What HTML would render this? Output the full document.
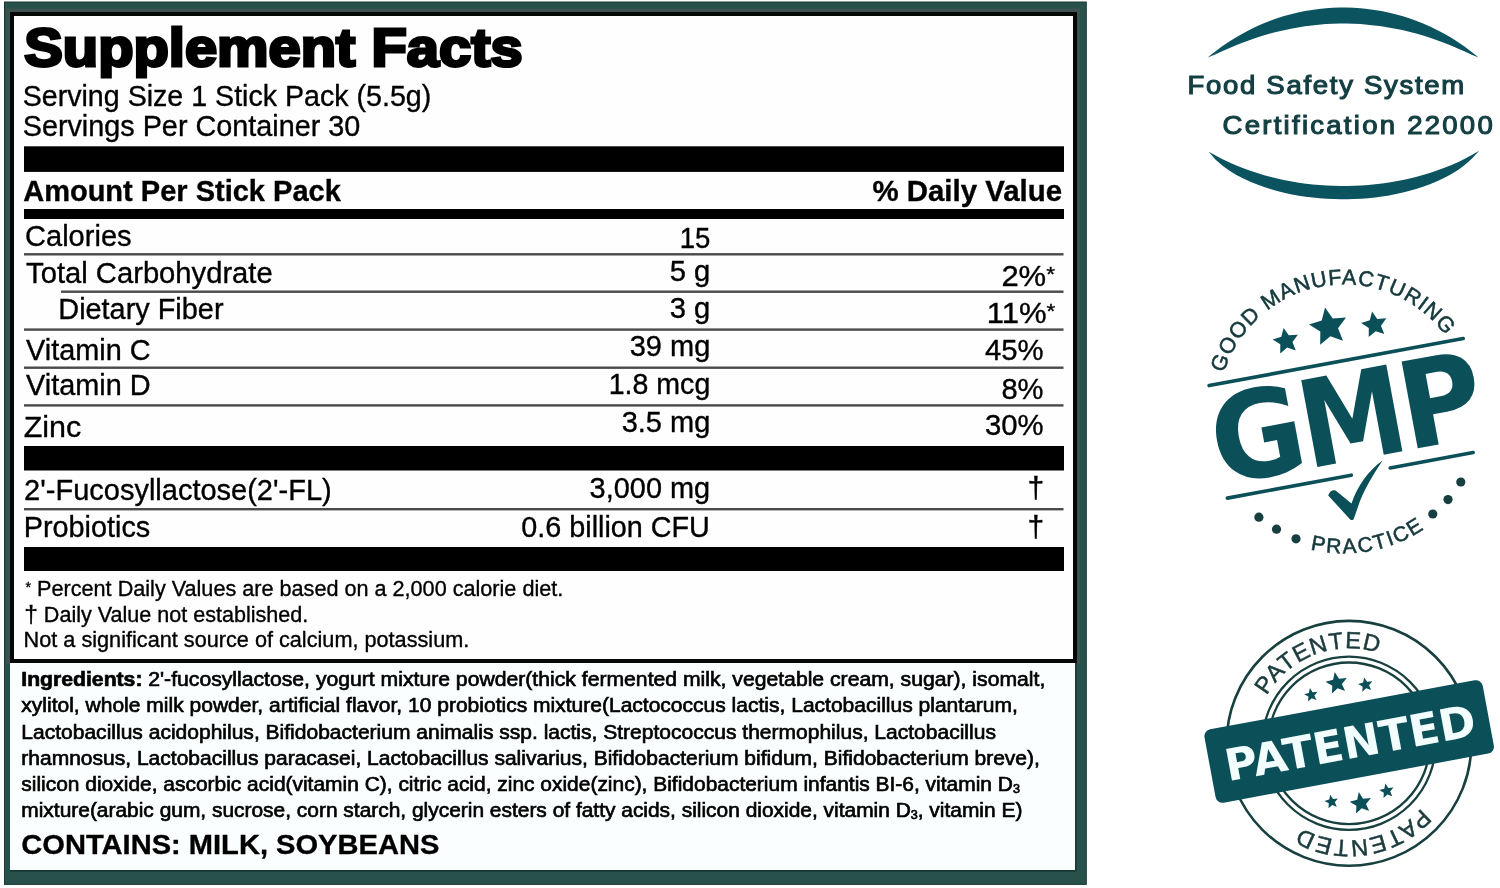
<!DOCTYPE html>
<html lang="en">
<head>
<meta charset="utf-8">
<title>Supplement Facts</title>
<style>
html,body{margin:0;padding:0;width:1500px;height:888px;overflow:hidden;background:#ffffff;}
svg{display:block;filter:blur(0.45px);}
.lb{font-family:"Liberation Sans",Arial,Helvetica,sans-serif;fill:#000;stroke:#000;stroke-width:0.35px;}
.b{font-weight:bold;}
.lg{font-family:"Liberation Sans",Arial,Helvetica,sans-serif;}
.dj{font-family:"DejaVu Sans",sans-serif;}
</style>
</head>
<body>
<svg width="1500" height="888" viewBox="0 0 1500 888">
<!-- ===== LABEL FRAME ===== -->
<rect x="4.5" y="2" width="1081.8" height="882.4" fill="#28514c" stroke="#1a3833" stroke-width="1"/>
<g fill="#3c5250"><rect x="6" y="8.5" width="4" height="655"/><rect x="6" y="8.5" width="1074" height="3.5"/><rect x="1077" y="8.5" width="3" height="655"/></g>
<rect x="10" y="660" width="1065" height="210" fill="#fbfefe"/>
<rect x="10" y="870" width="1066.5" height="1.6" fill="#173631"/>
<rect x="1075" y="663" width="1.5" height="208" fill="#173631"/>
<rect x="12" y="14" width="1063" height="647" fill="#fefefe" stroke="#050807" stroke-width="4"/>

<!-- bars -->
<g fill="#000">
<rect x="24" y="146.3" width="1040" height="25.6"/>
<rect x="24" y="209" width="1040" height="10"/>
<rect x="24" y="446" width="1040" height="24.5"/>
<rect x="24" y="547" width="1040" height="24"/>
</g>
<!-- thin rules -->
<g fill="#4a4a4a">
<rect x="24" y="253.1" width="1039.5" height="2.4"/>
<rect x="61" y="290.5" width="1002.5" height="2.4"/>
<rect x="24" y="328.4" width="1039.5" height="2.4"/>
<rect x="24" y="366.5" width="1039.5" height="2.4"/>
<rect x="24" y="404.2" width="1039.5" height="2.4"/>
<rect x="24" y="508" width="1039.5" height="2.4"/>
</g>

<!-- LABEL TEXT -->
<g class="lb">
<text x="24.2" y="66.2" font-size="54" class="b" stroke="#000" stroke-width="3" textLength="498.4" lengthAdjust="spacingAndGlyphs">Supplement Facts</text>
<text x="22.7" y="106" font-size="29.5" textLength="408.6" lengthAdjust="spacingAndGlyphs">Serving Size 1 Stick Pack (5.5g)</text>
<text x="22.7" y="136.3" font-size="29.5" textLength="337.6" lengthAdjust="spacingAndGlyphs">Servings Per Container 30</text>
<text x="23.2" y="201" font-size="30" class="b" textLength="317.6" lengthAdjust="spacingAndGlyphs">Amount Per Stick Pack</text>
<text x="872.4" y="200.8" font-size="30" class="b" textLength="189.6" lengthAdjust="spacingAndGlyphs">% Daily Value</text>

<text x="25.0" y="245.5" font-size="28.8" textLength="106.6" lengthAdjust="spacingAndGlyphs">Calories</text>
<text x="679.7" y="248" font-size="28.8" textLength="30.6" lengthAdjust="spacingAndGlyphs">15</text>

<text x="26.1" y="283.3" font-size="28.8" textLength="246.6" lengthAdjust="spacingAndGlyphs">Total Carbohydrate</text>
<text x="669.7" y="280.8" font-size="28.8" textLength="40.6" lengthAdjust="spacingAndGlyphs">5 g</text>
<text x="1001.4" y="285.6" font-size="28.8" textLength="53.6" lengthAdjust="spacingAndGlyphs">2%<tspan font-size="21" dy="-5">*</tspan></text>

<text x="58.3" y="318.7" font-size="28.8" textLength="165.2" lengthAdjust="spacingAndGlyphs">Dietary Fiber</text>
<text x="669.7" y="318" font-size="28.8" textLength="40.6" lengthAdjust="spacingAndGlyphs">3 g</text>
<text x="986.7" y="323.2" font-size="28.8" textLength="68.6" lengthAdjust="spacingAndGlyphs">11%<tspan font-size="21" dy="-5">*</tspan></text>

<text x="26.1" y="360.4" font-size="28.8" textLength="124.6" lengthAdjust="spacingAndGlyphs">Vitamin C</text>
<text x="629.7" y="355.7" font-size="28.8" textLength="80.6" lengthAdjust="spacingAndGlyphs">39 mg</text>
<text x="984.9" y="360.4" font-size="28.8" textLength="58.6" lengthAdjust="spacingAndGlyphs">45%</text>

<text x="26.1" y="395.3" font-size="28.8" textLength="124.6" lengthAdjust="spacingAndGlyphs">Vitamin D</text>
<text x="608.7" y="393.5" font-size="28.8" textLength="101.6" lengthAdjust="spacingAndGlyphs">1.8 mcg</text>
<text x="1001.4" y="398.6" font-size="28.8" textLength="42.1" lengthAdjust="spacingAndGlyphs">8%</text>

<text x="23.7" y="437" font-size="28.8" textLength="57.6" lengthAdjust="spacingAndGlyphs">Zinc</text>
<text x="621.7" y="432" font-size="28.8" textLength="88.6" lengthAdjust="spacingAndGlyphs">3.5 mg</text>
<text x="984.9" y="434.7" font-size="28.8" textLength="58.6" lengthAdjust="spacingAndGlyphs">30%</text>

<text x="24.1" y="500" font-size="28.8" textLength="307.6" lengthAdjust="spacingAndGlyphs">2'-Fucosyllactose(2'-FL)</text>
<text x="589.6" y="497.5" font-size="28.8" textLength="120.6" lengthAdjust="spacingAndGlyphs">3,000 mg</text>
<text x="1035.8" y="498" font-size="30" text-anchor="middle">†</text>

<text x="23.7" y="537.1" font-size="28.8" textLength="126.6" lengthAdjust="spacingAndGlyphs">Probiotics</text>
<text x="521.3" y="537.1" font-size="28.8" textLength="188.6" lengthAdjust="spacingAndGlyphs">0.6 billion CFU</text>
<text x="1035.8" y="537.3" font-size="30" text-anchor="middle">†</text>

<text x="25.6" y="595.6" font-size="21.5" textLength="537.7" lengthAdjust="spacingAndGlyphs"><tspan font-size="14" dy="-4">*</tspan><tspan dy="4"> Percent</tspan> Daily Values are based on a 2,000 calorie diet.</text>
<text x="24.2" y="621.5" font-size="21.5" textLength="284.1" lengthAdjust="spacingAndGlyphs"><tspan font-size="24.5">†</tspan> Daily Value not established.</text>
<text x="23.6" y="647" font-size="21.5" textLength="445.7" lengthAdjust="spacingAndGlyphs">Not a significant source of calcium, potassium.</text>

<text style="stroke-width:0.65px" x="21.3" y="686" font-size="20" textLength="1024.0" lengthAdjust="spacingAndGlyphs"><tspan font-weight="bold">Ingredients:</tspan> 2'-fucosyllactose, yogurt mixture powder(thick fermented milk, vegetable cream, sugar), isomalt,</text>
<text style="stroke-width:0.65px" x="21.3" y="712" font-size="20" textLength="996.6" lengthAdjust="spacingAndGlyphs">xylitol, whole milk powder, artificial flavor, 10 probiotics mixture(Lactococcus lactis, Lactobacillus plantarum,</text>
<text style="stroke-width:0.65px" x="21.3" y="738.5" font-size="20" textLength="974.6" lengthAdjust="spacingAndGlyphs">Lactobacillus acidophilus, Bifidobacterium animalis ssp. lactis, Streptococcus thermophilus, Lactobacillus</text>
<text style="stroke-width:0.65px" x="21.3" y="765" font-size="20" textLength="1018.6" lengthAdjust="spacingAndGlyphs">rhamnosus, Lactobacillus paracasei, Lactobacillus salivarius, Bifidobacterium bifidum, Bifidobacterium breve),</text>
<text style="stroke-width:0.65px" x="21.3" y="791" font-size="20" textLength="998.6" lengthAdjust="spacingAndGlyphs">silicon dioxide, ascorbic acid(vitamin C), citric acid, zinc oxide(zinc), Bifidobacterium infantis BI-6, vitamin D<tspan font-size="12" dy="2">3</tspan></text>
<text style="stroke-width:0.65px" x="21.3" y="817" font-size="20" textLength="1001.1" lengthAdjust="spacingAndGlyphs">mixture(arabic gum, sucrose, corn starch, glycerin esters of fatty acids, silicon dioxide, vitamin D<tspan font-size="12" dy="2">3</tspan><tspan dy="-2">, vitamin E)</tspan></text>
<text x="21.3" y="853.8" font-size="28.5" class="b" textLength="418.0" lengthAdjust="spacingAndGlyphs">CONTAINS: MILK, SOYBEANS</text>
</g>

<!-- ===== FOOD SAFETY LOGO ===== -->
<g fill="#0c5360">
<path d="M1207.6,57.6 L1214.6,52.0 L1221.5,46.8 L1228.5,42.1 L1235.4,37.7 L1242.4,33.7 L1249.3,30.0 L1256.3,26.6 L1263.2,23.6 L1270.2,20.8 L1277.1,18.3 L1284.1,16.1 L1291.0,14.2 L1298.0,12.5 L1304.9,11.1 L1311.9,9.9 L1318.8,8.9 L1325.8,8.2 L1332.7,7.8 L1339.7,7.5 L1346.6,7.5 L1353.6,7.8 L1360.5,8.2 L1367.5,8.9 L1374.4,9.9 L1381.4,11.1 L1388.3,12.5 L1395.3,14.2 L1402.2,16.1 L1409.2,18.3 L1416.1,20.8 L1423.1,23.5 L1430.0,26.6 L1437.0,29.9 L1443.9,33.6 L1450.9,37.6 L1457.8,42.0 L1464.8,46.7 L1471.7,51.9 L1478.7,57.5 L1471.7,54.7 L1464.8,51.5 L1457.8,48.4 L1450.9,45.5 L1443.9,42.7 L1437.0,40.2 L1430.0,37.8 L1423.1,35.6 L1416.1,33.6 L1409.2,31.8 L1402.2,30.1 L1395.3,28.7 L1388.3,27.4 L1381.4,26.3 L1374.4,25.4 L1367.5,24.7 L1360.5,24.1 L1353.6,23.8 L1346.6,23.6 L1339.7,23.6 L1332.7,23.8 L1325.8,24.1 L1318.8,24.7 L1311.9,25.4 L1304.9,26.3 L1298.0,27.4 L1291.0,28.7 L1284.1,30.2 L1277.1,31.8 L1270.2,33.6 L1263.2,35.6 L1256.3,37.8 L1249.3,40.2 L1242.4,42.8 L1235.4,45.5 L1228.5,48.4 L1221.5,51.5 L1214.6,54.8 Z"/>
<path d="M1208.7,151.7 L1215.6,155.6 L1222.6,159.2 L1229.5,162.5 L1236.4,165.6 L1243.4,168.3 L1250.3,170.8 L1257.3,173.1 L1264.2,175.2 L1271.1,177.1 L1278.1,178.8 L1285.0,180.3 L1291.9,181.6 L1298.9,182.7 L1305.8,183.7 L1312.7,184.4 L1319.7,185.1 L1326.6,185.5 L1333.5,185.8 L1340.5,186.0 L1347.4,186.0 L1354.4,185.8 L1361.3,185.5 L1368.2,185.0 L1375.2,184.3 L1382.1,183.5 L1389.0,182.5 L1396.0,181.3 L1402.9,179.9 L1409.8,178.4 L1416.8,176.7 L1423.7,174.8 L1430.6,172.7 L1437.6,170.3 L1444.5,167.7 L1451.5,164.9 L1458.4,161.9 L1465.3,158.5 L1472.3,154.8 L1479.2,150.8 L1472.3,158.3 L1465.3,164.5 L1458.4,169.7 L1451.5,174.0 L1444.5,177.8 L1437.6,181.1 L1430.6,184.0 L1423.7,186.6 L1416.8,188.8 L1409.8,190.8 L1402.9,192.6 L1396.0,194.1 L1389.0,195.4 L1382.1,196.5 L1375.2,197.4 L1368.2,198.2 L1361.3,198.7 L1354.4,199.1 L1347.4,199.3 L1340.5,199.3 L1333.5,199.1 L1326.6,198.8 L1319.7,198.3 L1312.7,197.6 L1305.8,196.7 L1298.9,195.7 L1291.9,194.4 L1285.0,192.9 L1278.1,191.2 L1271.1,189.3 L1264.2,187.1 L1257.3,184.6 L1250.3,181.7 L1243.4,178.5 L1236.4,174.9 L1229.5,170.7 L1222.6,165.7 L1215.6,159.8 Z"/>
</g>
<g class="lg" fill="#143f42" stroke="#143f42" stroke-width="1.1">
<text x="1187.4" y="93.6" font-size="25" letter-spacing="1.56" textLength="278.6" lengthAdjust="spacingAndGlyphs">Food Safety System</text>
<text x="1222.6" y="133.8" font-size="25" letter-spacing="2.06" textLength="272.4" lengthAdjust="spacingAndGlyphs">Certification 22000</text>
</g>

<!-- LOGOS START -->
<!-- ===== GMP LOGO ===== -->
<defs>
<path id="gmpTop" d="M0,126 A126,126 0 1,1 0,-126 A126,126 0 1,1 0,126"/>
<path id="gmpBot" d="M0,-143 A143,143 0 1,0 0,143 A143,143 0 1,0 0,-143"/>
<path id="patTop" d="M0,95 A95,95 0 1,1 0,-95 A95,95 0 1,1 0,95"/>
<path id="patBot" d="M0,97 A97,97 0 1,1 0,-97 A97,97 0 1,1 0,97"/>
</defs>
<g transform="translate(1344.1,410.4) rotate(-10.5)" fill="#0b4f58">
<text class="lg" font-size="21.5" letter-spacing="1.06" fill="#15393d" stroke="#15393d" stroke-width="0.55" transform="rotate(1.1)"><textPath href="#gmpTop" startOffset="50%" text-anchor="middle">GOOD MANUFACTURING</textPath></text>
<text class="lg" font-size="21" letter-spacing="1.8" fill="#15393d" stroke="#15393d" stroke-width="0.55"><textPath href="#gmpBot" startOffset="50%" text-anchor="middle">PRACTICE</textPath></text>
<path d="M-44.5,-92.1 L-40.7,-83.9 L-31.7,-82.8 L-38.3,-76.6 L-36.6,-67.7 L-44.5,-72.1 L-52.4,-67.7 L-50.7,-76.6 L-57.3,-82.8 L-48.3,-83.9 Z M0.0,-104.6 L5.6,-92.5 L18.8,-90.9 L9.0,-81.9 L11.6,-68.8 L0.0,-75.3 L-11.6,-68.8 L-9.0,-81.9 L-18.8,-90.9 L-5.6,-92.5 Z M45.5,-92.1 L49.3,-83.9 L58.3,-82.8 L51.7,-76.6 L53.4,-67.7 L45.5,-72.1 L37.6,-67.7 L39.3,-76.6 L32.7,-82.8 L41.7,-83.9 Z"/>
<rect x="-130" y="-50.8" width="262" height="3.6" rx="1.8"/>
<rect x="-132.5" y="63.2" width="129.5" height="3.6" rx="1.8"/>
<rect x="33" y="63.2" width="88" height="3.6" rx="1.8"/>
<text class="dj" y="50.7" font-size="121" font-weight="bold"><tspan x="-136.2" textLength="93.5" lengthAdjust="spacingAndGlyphs">G</tspan><tspan x="-46.4" textLength="106.1" lengthAdjust="spacingAndGlyphs">M</tspan><tspan x="55.2" textLength="83.1" lengthAdjust="spacingAndGlyphs">P</tspan></text>
</g>
<circle cx="1258.9" cy="517.2" r="4.6" fill="#173f41"/>
<circle cx="1276.5" cy="529.2" r="4.6" fill="#173f41"/>
<circle cx="1296" cy="538.8" r="4.6" fill="#173f41"/>
<circle cx="1432.8" cy="514" r="4.6" fill="#173f41"/>
<circle cx="1448" cy="499.6" r="4.6" fill="#173f41"/>
<circle cx="1460.8" cy="482" r="4.6" fill="#173f41"/>
<path fill="#0b4f58" d="M1328.2,495.6 Q1330.5,489.2 1335.6,490.6 L1351.5,503.5 C1357.5,486 1368,471 1382.6,460.6 C1376,470.5 1366.5,485 1360,501 L1353.6,519.2 Q1351.8,521 1350,519.2 Z"/>
<!-- ===== PATENTED LOGO ===== -->
<g transform="translate(1349.0,743.3)" fill="#0b4f58">
<circle r="122.4" fill="none" stroke="#18403f" stroke-width="2.6"/>
<circle r="86.6" fill="none" stroke="#18403f" stroke-width="2.3"/>
<circle r="80.8" fill="none" stroke="#18403f" stroke-width="2.3"/>
<g transform="rotate(-20.7)"><text class="lg" font-size="23.5" letter-spacing="1.0" fill="#1b3b3d" stroke="#1b3b3d" stroke-width="0.5"><textPath href="#patTop" startOffset="50%" text-anchor="middle">PATENTED</textPath></text></g>
<g transform="rotate(171)"><text class="lg" font-size="23.5" letter-spacing="1.35" fill="#1b3b3d" stroke="#1b3b3d" stroke-width="0.5"><textPath href="#patBot" startOffset="50%" text-anchor="middle">PATENTED</textPath></text></g>
</g>
<path fill="#0b4f58" d="M1309.9,688.0 L1312.6,692.2 L1317.5,691.7 L1314.4,695.5 L1316.4,700.1 L1311.8,698.3 L1308.1,701.6 L1308.4,696.6 L1304.1,694.2 L1308.8,692.9 Z M1334.7,672.1 L1339.0,678.7 L1346.8,677.9 L1341.9,684.0 L1345.1,691.1 L1337.7,688.3 L1331.9,693.6 L1332.3,685.7 L1325.5,681.8 L1333.1,679.8 Z M1364.2,677.4 L1367.1,681.8 L1372.3,681.3 L1369.0,685.3 L1371.1,690.1 L1366.2,688.3 L1362.3,691.8 L1362.6,686.5 L1358.1,683.9 L1363.1,682.5 Z M1330.3,794.7 L1333.0,798.9 L1337.9,798.4 L1334.8,802.2 L1336.8,806.8 L1332.2,805.0 L1328.5,808.3 L1328.8,803.3 L1324.5,800.9 L1329.2,799.6 Z M1358.8,792.1 L1363.1,798.7 L1370.9,797.9 L1366.0,804.0 L1369.2,811.1 L1361.8,808.3 L1356.0,813.6 L1356.4,805.7 L1349.6,801.8 L1357.2,799.8 Z M1385.4,783.6 L1388.3,788.0 L1393.5,787.5 L1390.2,791.5 L1392.3,796.3 L1387.4,794.5 L1383.5,798.0 L1383.8,792.7 L1379.3,790.1 L1384.3,788.7 Z"/>
<g transform="translate(1349.0,743.3) rotate(-10.5)">
<rect x="-141" y="-39" width="283" height="74.5" rx="7" fill="#0b4f58"/>
<text class="dj" x="-126" y="15.3" font-size="44" font-weight="bold" fill="#f2fdfd" textLength="254.4" lengthAdjust="spacingAndGlyphs">PATENTED</text>
</g>
<!-- LOGOS END -->
</svg>
</body>
</html>
